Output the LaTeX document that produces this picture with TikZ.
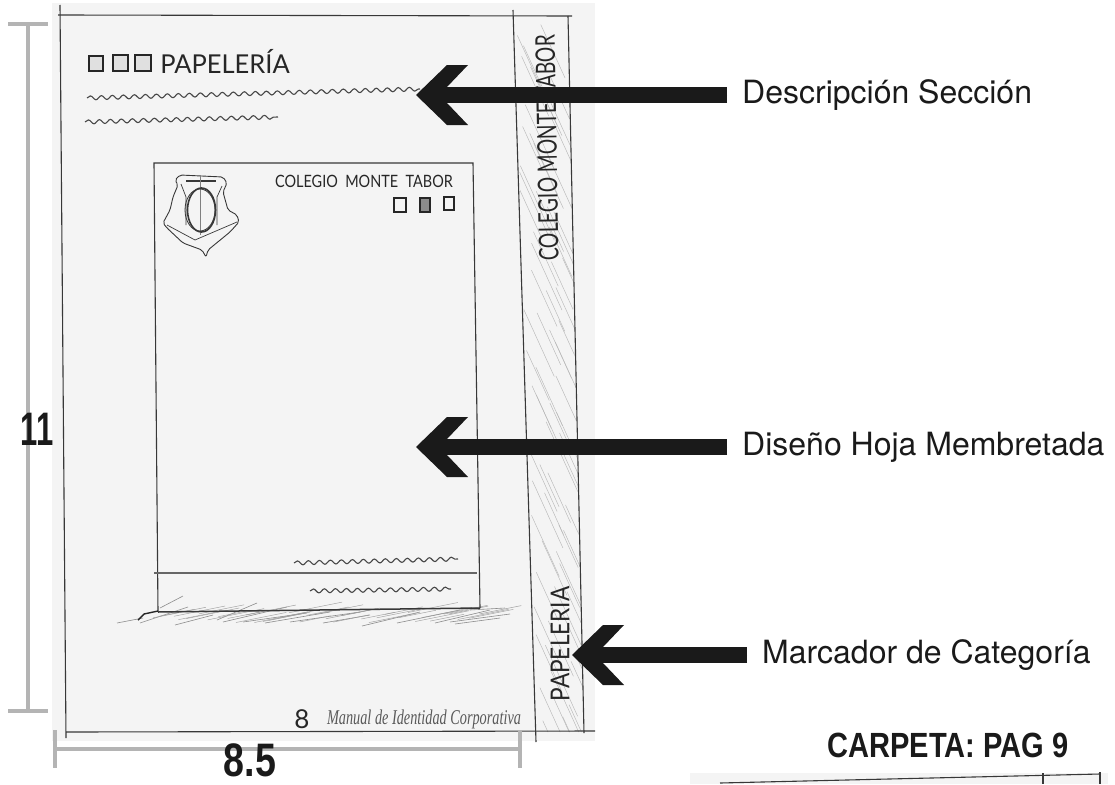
\documentclass[tikz,border=0pt]{standalone}
\usepackage{fontspec}
\setmainfont{TeX Gyre Heros}
\newfontfamily\boldfont{Liberation Sans}
\newfontfamily\handfont{Lato}
\newfontfamily\pencilfont{Liberation Serif}
\usetikzlibrary{arrows.meta,decorations.pathmorphing}
\definecolor{papergray}{HTML}{F4F4F4}
\definecolor{dimgray}{HTML}{B4B4B4}
\definecolor{inkblack}{HTML}{1A1A1A}
% flecha gruesa de las etiquetas
\pgfdeclarearrow{
  name = Chevron,
  setup code = {
    \pgfarrowssettipend{0pt}
    \pgfarrowssetlineend{-30pt}
    \pgfarrowssetvisualbackend{-52pt}
    \pgfarrowssetbackend{-52pt}
    \pgfarrowshullpoint{0pt}{0pt}
    \pgfarrowshullpoint{-52pt}{30pt}
    \pgfarrowshullpoint{-52pt}{-30pt}
  },
  drawing code = {
    \pgfpathmoveto{\pgfpoint{0pt}{0pt}}
    \pgfpathlineto{\pgfpoint{-31pt}{30pt}}
    \pgfpathlineto{\pgfpoint{-52pt}{30pt}}
    \pgfpathlineto{\pgfpoint{-31pt}{8pt}}
    \pgfpathlineto{\pgfpoint{-31pt}{-8pt}}
    \pgfpathlineto{\pgfpoint{-52pt}{-30pt}}
    \pgfpathlineto{\pgfpoint{-31pt}{-30pt}}
    \pgfpathclose
    \pgfusepathqfill
  }
}
\tikzset{
  labelnode/.style = {anchor=west, inner xsep=15pt, inner ysep=0pt,
    font=\fontsize{32}{32}\selectfont, text=inkblack},% etiqueta
  bignum/.style = {inner sep=0pt, text=inkblack, transform shape,
    font=\boldfont\bfseries\fontsize{47}{47}\selectfont},% medidas
  handtext/.style = {inner sep=0pt, text=black!85, transform shape,
    font=\handfont},% letra a lapiz
  markerarrow/.style = {line width=16pt, draw=inkblack, fill=inkblack,
    -{Chevron}},
  dimline/.style = {draw=dimgray, line width=3.5pt},
  sketchline/.style = {draw=black!78, line width=1.1pt},
  hatchline/.style = {draw=black!28, line width=.45pt},
  squiggle/.style = {draw=black!72, line width=1.1pt, decorate,
    decoration={snake, segment length=11pt, amplitude=2pt}},
  tinybox/.style = {draw=black!85, line width=1.5pt, fill=black!12}
}
\begin{document}
\begin{tikzpicture}[x=1pt,y=-1pt]
\useasboundingbox (0,0) rectangle (1115,784);
% hojas
\fill[papergray] (52,3) rectangle (595,741);
\fill[papergray] (690,773) rectangle (1108,784);
% rayado de la banda lateral
\pgfmathsetseed{8}
\begin{scope}
\clip (515,16) -- (568,16) -- (584,732) -- (536,732) -- cycle;
\foreach \i in {0,...,70} {
  \pgfmathsetmacro{\ya}{20+\i*10+rnd*8}
  \pgfmathsetmacro{\xa}{512+.03*\ya+rnd*45}
  \pgfmathsetmacro{\dx}{18+rnd*16}
  \draw[hatchline] (\xa,\ya) -- ++(\dx,2.2*\dx);
}
\end{scope}
% sombra de la hoja membretada
\foreach \xa/\ya/\xb/\yb in {117/623/143/618, 140/623/188/607, 160/608/183/596,
  175/625/213/615, 217/620/257/603, 223/622/287/607, 243/622/307/613,
  265/623/330/612, 290/622/360/612, 323/623/370/615, 362/626/420/612,
  397/623/460/610, 435/623/490/610, 450/622/510/614, 455/624/500/618,
  470/610/505/608} {
  \draw[hatchline, draw=black!45, line width=.6pt] (\xa,\ya) -- (\xb,\yb);
}
\foreach \i in {0,...,36} {
  \pgfmathsetmacro{\xa}{150+\i*9+rnd*6}
  \pgfmathsetmacro{\ya}{612+rnd*11}
  \pgfmathsetmacro{\dx}{28+rnd*30}
  \draw[hatchline, draw=black!38] (\xa,\ya) -- ++(\dx,-.2*\dx);
}
% marco de la pagina
\coordinate (frametl) at (60,5);
\coordinate (framebl) at (66,738);
\coordinate (topl) at (58,15);
\coordinate (topr) at (572,16);
\coordinate (botl) at (66,732);
\coordinate (botr) at (595,731);
\coordinate (stripat) at (513,10);
\coordinate (stripab) at (536,742);
\coordinate (stripbt) at (568,16);
\coordinate (stripbb) at (584,733);
\draw[sketchline] (frametl) -- (framebl);
\draw[sketchline] (topl) -- (topr);
\draw[sketchline] (botl) -- (botr);
\draw[sketchline] (stripat) -- (stripab);
\draw[sketchline] (stripbt) -- (stripbb);
% hoja membretada
\coordinate (sheettl) at (154,163);
\coordinate (sheettr) at (473,163);
\coordinate (sheetbl) at (158,612);
\coordinate (sheetbr) at (480,608);
\coordinate (folda) at (154,573);
\coordinate (foldb) at (477,573);
\draw[sketchline] (sheetbl) -- (sheettl) -- (sheettr) -- (sheetbr);
\draw[sketchline, draw=black!60] (folda) -- (foldb);
\draw[sketchline, line width=1.5pt] (sheetbl) -- (sheetbr);
\draw[line width=1.4pt, black!85] (138,620) -- (144,614) -- (158,611);
% escudo
\draw[sketchline, line width=.9pt, rounded corners=2pt] (175,180) -- (180,175)
  -- (223,177) -- (227,183) -- (223,192) -- (228,210) -- (237,215) -- (239,222)
  -- (230,232) -- (208,250) -- (206,257) -- (202,250) -- (183,243) -- (167,228)
  -- (163,223) -- (170,210) -- (173,197) -- (178,185) -- cycle;
\draw[sketchline, line width=.7pt] (181,184) -- (186,197) -- (186,225)
  (222,186) -- (217,197) -- (217,225);
\draw[sketchline, line width=.7pt] (167,225) -- (195,240) -- (237,222);
\draw[sketchline, line width=1.8pt] (186,181) -- (216,181);
\draw[hatchline, line width=.7pt, draw=black!50] (200,175) -- (200,235);
\draw[sketchline, line width=1.6pt] (201.5,210) ellipse (14 and 22);
\draw[sketchline, line width=.8pt] (200,210) ellipse (15 and 21);
% cuadritos
\draw[tinybox] (89,56) rectangle (103,71);
\draw[tinybox] (113,55) rectangle (128,71);
\draw[tinybox] (135,55) rectangle (151,71);
\draw[tinybox, fill=none] (394,198) rectangle (406,212);
\draw[tinybox, fill=black!45] (420,198) rectangle (430,212);
\draw[tinybox, fill=none] (444,197) rectangle (454,210);
% lineas de texto
\coordinate (desca) at (87,98);
\coordinate (descb) at (420,89);
\coordinate (descc) at (85,122);
\coordinate (descd) at (278,117);
\coordinate (firma) at (294,563);
\coordinate (firmb) at (458,559);
\coordinate (firmc) at (310,591);
\coordinate (firmd) at (451,589);
\draw[squiggle] (desca) -- (descb);
\draw[squiggle] (descc) -- (descd);
\draw[squiggle] (firma) -- (firmb);
\draw[squiggle] (firmc) -- (firmd);
% textos a lapiz
\node[handtext, font=\handfont\fontsize{26}{26}\selectfont, xscale=.98] (sectiontitle) at (225,61) {PAPELERÍA};
\node[handtext, font=\handfont\fontsize{17}{17}\selectfont, xscale=.85] (sheettitle) at (364,181) {COLEGIO\ \ MONTE\ \ TABOR};
\node[handtext, font=\handfont\fontsize{27}{27}\selectfont, rotate=91, xscale=.71] (stripname) at (547,148) {COLEGIO MONTE TABOR};
\node[handtext, font=\handfont\fontsize{26}{26}\selectfont, rotate=90, xscale=.87] (stripcat) at (560,644) {PAPELERIA};
\node[handtext, font=\handfont\fontsize{26}{26}\selectfont] (pagenum) at (302,719) {8};
\node[handtext, text=black!65, xscale=.68, font=\pencilfont\itshape\fontsize{21}{21}\selectfont] (pagetext) at (424,719) {Manual de Identidad Corporativa};
% medidas
\coordinate (heighttl) at (8,24);
\coordinate (heighttr) at (48,24);
\coordinate (heightbl) at (8,711);
\coordinate (heightbr) at (48,711);
\coordinate (heighta) at (28,24);
\coordinate (heightb) at (28,711);
\coordinate (widtha) at (55,749);
\coordinate (widthb) at (520,749);
\coordinate (widthat) at (55,730);
\coordinate (widthab) at (55,768);
\coordinate (widthbt) at (520,730);
\coordinate (widthbb) at (520,768);
\draw[dimline] (heighttl) -- (heighttr);
\draw[dimline] (heightbl) -- (heightbr);
\draw[dimline] (heighta) -- (heightb);
\draw[dimline] (widtha) -- (widthb);
\draw[dimline] (widthat) -- (widthab);
\draw[dimline] (widthbt) -- (widthbb);
\node[bignum, xscale=.66] (heightnum) at (37,429) {1{}1};
\node[bignum, xscale=.8] (widthnum) at (250,760) {8.5};
% etiquetas
\node[labelnode] (descsection) at (727,95) {Descripción Sección};
\node[labelnode] (designsheet) at (727,447) {Diseño Hoja Membretada};
\node[labelnode] (categorymark) at (747,655) {Marcador de Categoría};
\coordinate (tipsection) at (416,95);
\coordinate (tipsheet) at (416,447);
\coordinate (tipcategory) at (572,655);
\draw[markerarrow] (descsection.west) -- (tipsection);
\draw[markerarrow] (designsheet.west) -- (tipsheet);
\draw[markerarrow] (categorymark.west) -- (tipcategory);
\node[bignum, font=\boldfont\bfseries\fontsize{35}{35}\selectfont, xscale=.83] (nextpage) at (948,745) {CARPETA: PAG 9};
% hoja siguiente
\coordinate (nexta) at (720,783);
\coordinate (nextb) at (1100,774);
\coordinate (nextc) at (1043,773);
\coordinate (nextd) at (1043,784);
\coordinate (nexte) at (1100,772);
\coordinate (nextf) at (1100,784);
\draw[sketchline] (nexta) -- (nextb);
\draw[sketchline] (nextc) -- (nextd);
\draw[sketchline] (nexte) -- (nextf);
\end{tikzpicture}
\end{document}
